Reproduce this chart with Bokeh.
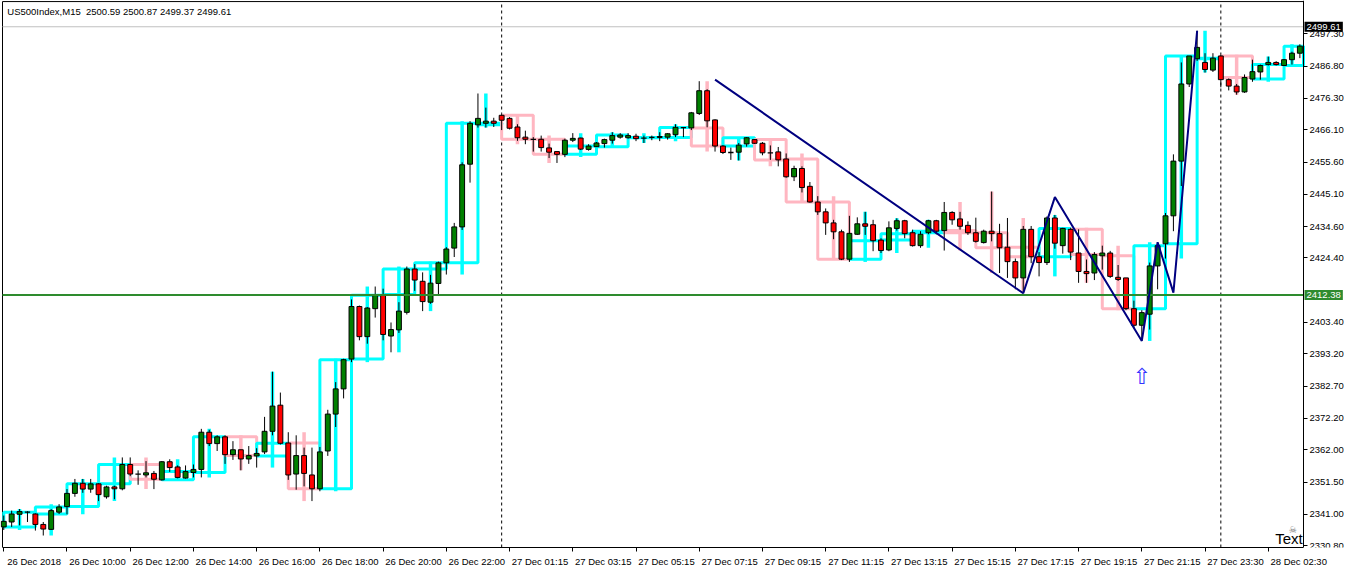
import pandas as pd
import numpy as np
from bokeh.plotting import figure
from bokeh.models import (FixedTicker, LinearAxis, Label, Range1d,
                          CustomJSTickFormatter, PrintfTickFormatter, ColumnDataSource)
from bokeh.core.properties import value
from bokeh.embed import file_html
from bokeh.resources import INLINE

# ---------------- data ----------------
symbol = "US500Index,M15"
header_ohlc = ["2500.59", "2500.87", "2499.37", "2499.61"]

opens = [2336.9, 2338.5, 2341.0, 2341.7, 2341.1, 2337.7, 2336.1, 2341.7, 2343.5, 2347.8,
         2351.1, 2349.2, 2350.9, 2346.7, 2349.9, 2349.3, 2357.2, 2354.1, 2353.8, 2354.3,
         2352.2, 2358.1, 2356.4, 2352.8, 2354.6, 2355.6, 2367.7, 2364.0, 2366.2, 2360.4,
         2362.0, 2359.0, 2360.0, 2361.3, 2368.0, 2376.5, 2364.2, 2354.1, 2360.1, 2353.8,
         2349.3, 2361.6, 2373.6, 2381.8, 2391.5, 2408.6, 2398.8, 2407.9, 2412.5, 2399.0,
         2401.0, 2406.7, 2420.8, 2416.8, 2410.0, 2416.1, 2422.8, 2427.6, 2434.5, 2454.9,
         2467.7, 2468.2, 2468.9, 2470.8, 2469.8, 2467.0, 2463.7, 2463.0, 2463.0, 2460.2,
         2459.0, 2458.1, 2462.7, 2463.4, 2459.7, 2460.6, 2461.6, 2462.7, 2463.7, 2463.5,
         2464.0, 2463.4, 2463.6, 2463.6, 2463.7, 2464.5, 2466.8, 2466.7, 2471.4, 2478.8,
         2469.3, 2460.8, 2458.7, 2458.8, 2461.5, 2462.9, 2461.7, 2458.6, 2458.9, 2456.6,
         2450.8, 2453.5, 2447.7, 2442.6, 2439.4, 2435.8, 2432.9, 2424.0, 2432.1, 2435.5,
         2435.2, 2430.2, 2427.0, 2434.0, 2436.5, 2432.6, 2428.4, 2432.6, 2436.5, 2433.3,
         2439.2, 2437.1, 2435.0, 2432.6, 2429.4, 2433.1, 2432.3, 2427.9, 2423.2, 2417.9,
         2433.7, 2424.8, 2422.9, 2437.4, 2428.4, 2433.7, 2426.0, 2420.0, 2419.5, 2425.1,
         2426.0, 2418.1, 2417.9, 2407.9, 2402.5, 2406.1, 2421.8, 2429.0, 2438.1, 2455.9,
         2481.0, 2489.2, 2488.0, 2485.5, 2490.1, 2482.4, 2480.3, 2478.4, 2482.6, 2484.9,
         2487.3, 2488.0, 2487.0, 2488.9, 2491.0]
highs = [2340.6, 2342.2, 2342.7, 2342.0, 2341.3, 2338.5, 2342.7, 2344.3, 2349.2, 2352.5,
         2352.5, 2352.5, 2351.1, 2350.3, 2350.3, 2359.5, 2359.5, 2355.3, 2358.3, 2355.1,
         2358.3, 2358.9, 2356.9, 2356.9, 2357.2, 2368.8, 2368.5, 2366.7, 2366.7, 2364.8,
         2362.0, 2363.2, 2362.5, 2372.7, 2387.4, 2380.6, 2367.7, 2366.7, 2362.7, 2362.7,
         2362.9, 2375.0, 2384.0, 2391.6, 2410.9, 2408.9, 2408.4, 2415.1, 2414.4, 2403.4,
         2410.0, 2421.6, 2422.4, 2419.7, 2418.9, 2423.2, 2427.9, 2435.8, 2455.5, 2468.9,
         2477.9, 2473.3, 2470.0, 2471.2, 2470.2, 2467.9, 2465.8, 2463.7, 2464.2, 2461.6,
         2459.0, 2463.2, 2465.0, 2463.5, 2461.4, 2462.1, 2463.2, 2465.3, 2465.0, 2465.0,
         2464.8, 2464.2, 2464.2, 2465.3, 2465.0, 2467.9, 2466.8, 2471.9, 2481.9, 2479.3,
         2469.5, 2461.1, 2460.3, 2461.8, 2463.7, 2463.1, 2462.1, 2461.0, 2460.5, 2458.4,
         2454.4, 2454.2, 2449.1, 2444.5, 2440.5, 2436.8, 2433.6, 2438.1, 2437.6, 2439.4,
         2436.8, 2430.8, 2436.3, 2437.3, 2436.8, 2433.6, 2433.1, 2436.8, 2436.8, 2442.6,
         2439.6, 2439.4, 2436.3, 2437.5, 2433.6, 2446.0, 2435.5, 2437.4, 2424.2, 2434.8,
         2434.8, 2426.3, 2437.9, 2438.4, 2434.2, 2434.2, 2433.7, 2423.9, 2426.3, 2428.4,
         2426.7, 2422.1, 2417.9, 2410.5, 2407.4, 2422.9, 2429.5, 2439.0, 2458.1, 2488.0,
         2490.1, 2498.3, 2491.0, 2491.0, 2490.5, 2482.8, 2481.0, 2484.1, 2488.9, 2487.3,
         2489.9, 2488.4, 2489.1, 2491.5, 2493.9]
lows = [2335.9, 2336.9, 2337.4, 2338.5, 2335.7, 2334.1, 2335.9, 2341.1, 2341.0, 2346.7,
        2348.0, 2348.0, 2345.3, 2346.1, 2345.9, 2348.8, 2353.4, 2350.6, 2353.0, 2349.2,
        2352.0, 2354.8, 2352.7, 2352.6, 2353.0, 2353.0, 2363.2, 2361.6, 2357.4, 2358.7,
        2355.3, 2357.4, 2356.2, 2360.6, 2366.7, 2363.7, 2352.2, 2349.0, 2350.1, 2345.3,
        2348.5, 2360.0, 2369.4, 2378.7, 2390.5, 2397.6, 2396.5, 2405.0, 2397.6, 2393.7,
        2400.0, 2406.0, 2413.7, 2407.1, 2409.5, 2412.1, 2419.0, 2424.7, 2433.5, 2448.9,
        2466.8, 2466.8, 2467.0, 2466.0, 2466.2, 2462.5, 2461.4, 2459.0, 2459.0, 2456.9,
        2455.3, 2457.2, 2462.1, 2459.5, 2459.3, 2460.6, 2460.3, 2461.6, 2463.2, 2463.2,
        2462.4, 2461.8, 2462.7, 2462.4, 2462.9, 2463.7, 2463.7, 2466.0, 2470.9, 2466.9,
        2459.0, 2458.2, 2456.3, 2456.1, 2460.6, 2461.5, 2457.8, 2456.3, 2454.2, 2450.5,
        2449.4, 2445.7, 2442.4, 2438.4, 2431.9, 2430.5, 2423.7, 2423.1, 2431.9, 2431.9,
        2426.6, 2426.0, 2426.6, 2433.3, 2430.8, 2428.1, 2427.7, 2432.1, 2432.1, 2426.8,
        2435.2, 2433.6, 2431.9, 2429.4, 2429.1, 2429.8, 2419.5, 2417.9, 2414.2, 2413.2,
        2422.7, 2418.4, 2422.1, 2427.4, 2425.8, 2423.7, 2416.3, 2416.3, 2417.2, 2420.6,
        2417.9, 2416.9, 2407.4, 2401.6, 2397.4, 2401.1, 2414.2, 2424.2, 2433.1, 2447.8,
        2480.0, 2488.5, 2484.7, 2484.9, 2479.9, 2478.9, 2477.5, 2478.1, 2481.7, 2482.4,
        2487.0, 2487.0, 2486.8, 2487.3, 2489.4]
closes = [2338.7, 2341.1, 2341.9, 2341.7, 2337.7, 2336.2, 2342.2, 2343.4, 2347.8, 2351.1,
          2349.2, 2350.9, 2347.4, 2349.9, 2349.3, 2357.2, 2354.1, 2354.1, 2354.5, 2352.4,
          2358.1, 2356.2, 2353.0, 2354.9, 2355.6, 2367.7, 2364.0, 2366.2, 2360.4, 2362.0,
          2359.0, 2360.1, 2360.8, 2368.0, 2376.2, 2364.1, 2353.8, 2360.1, 2354.3, 2349.3,
          2361.3, 2373.6, 2381.8, 2391.3, 2408.6, 2398.8, 2408.1, 2412.3, 2399.5, 2401.1,
          2407.1, 2420.8, 2417.2, 2410.2, 2416.2, 2422.8, 2427.3, 2434.5, 2454.7, 2468.2,
          2469.8, 2468.9, 2468.2, 2469.2, 2466.6, 2463.5, 2463.0, 2463.0, 2460.3, 2458.8,
          2458.1, 2462.7, 2463.3, 2459.8, 2460.8, 2461.8, 2462.9, 2464.2, 2464.4, 2464.2,
          2463.2, 2463.4, 2463.6, 2463.9, 2464.8, 2466.9, 2466.8, 2471.6, 2478.8, 2469.0,
          2460.8, 2458.7, 2458.7, 2461.1, 2463.5, 2461.7, 2458.6, 2458.6, 2456.3, 2450.8,
          2453.5, 2447.3, 2442.6, 2439.4, 2435.8, 2432.9, 2424.0, 2432.4, 2435.5, 2434.7,
          2430.0, 2426.8, 2434.2, 2436.5, 2432.3, 2428.4, 2432.1, 2436.5, 2433.1, 2439.2,
          2436.8, 2434.7, 2432.6, 2429.8, 2433.1, 2432.3, 2427.7, 2423.2, 2417.9, 2433.7,
          2424.8, 2422.9, 2437.4, 2429.2, 2434.0, 2426.3, 2420.0, 2419.3, 2425.5, 2426.0,
          2418.4, 2417.4, 2407.9, 2402.5, 2406.6, 2421.8, 2428.4, 2438.1, 2455.9, 2481.0,
          2490.1, 2492.9, 2485.7, 2489.4, 2482.4, 2480.3, 2478.4, 2483.1, 2485.0, 2487.0,
          2488.0, 2487.3, 2488.9, 2491.0, 2493.3]

# trading sessions (start time, number of M15 bars)
sessions = [("2018-12-26 08:00", 63), ("2018-12-27 01:00", 89),
            ("2018-12-27 23:30", 2), ("2018-12-28 01:00", 11)]

price_ticks = [2497.30, 2486.80, 2476.30, 2466.10, 2455.60, 2445.10, 2434.60, 2424.40,
               2403.40, 2393.20, 2382.70, 2372.20, 2362.00, 2351.50, 2341.00, 2330.80]
date_tick_labels = ["26 Dec 2018", "26 Dec 10:00", "26 Dec 12:00", "26 Dec 14:00",
                    "26 Dec 16:00", "26 Dec 18:00", "26 Dec 20:00", "26 Dec 22:00",
                    "27 Dec 01:15", "27 Dec 03:15", "27 Dec 05:15", "27 Dec 07:15",
                    "27 Dec 09:15", "27 Dec 11:15", "27 Dec 13:15", "27 Dec 15:15",
                    "27 Dec 17:15", "27 Dec 19:15", "27 Dec 21:15", "27 Dec 23:30",
                    "28 Dec 02:30"]
date_tick_step = 8

bid_price = 2499.61
level_price = 2412.38
zz_bars = [90, 129, 133, 144, 146, 148, 151]
zz_prices = [2482.4, 2412.9, 2444.2, 2397.4, 2429.5, 2413.1, 2498.3]
arrow_bar, arrow_price = 144, 2390.0

# ---------------- derived ----------------
times = []
for start, n in sessions:
    times += list(pd.date_range(start, periods=n, freq="15min"))
df = pd.DataFrame({"t": times, "o": opens, "h": highs, "l": lows, "c": closes})
df["i"] = np.arange(len(df))

# visible chart window (in bars / price)
cx0, cx1 = -0.16, 164.46
cy0, cy1 = 2330.2, 2507.8

# H1 candles
df["hr"] = df["t"].dt.floor("h")
h1 = df.groupby("hr").agg(first=("i", "min"), last=("i", "max"), o=("o", "first"),
                          c=("c", "last"), h=("h", "max"), l=("l", "min"),
                          n=("i", "count")).reset_index()
h1["left"] = h1["first"]
h1["right"] = np.minimum(h1["last"] + 1, cx1)
h1["mid"] = h1["first"] + h1["n"] // 2
h1["top"] = h1[["o", "c"]].max(axis=1)
h1["bottom"] = h1[["o", "c"]].min(axis=1)
h1["color"] = np.where(h1["c"] >= h1["o"], "#00FFFF", "#FFB6C1")
h1src = ColumnDataSource(h1[["left", "right", "mid", "top", "bottom", "h", "l", "color"]])

# day separators: first bar of each new day
day = df["t"].dt.date
sep_bars = [int(i) for i in df["i"][day != day.shift()].tolist()[1:]]

df["top"] = df[["o", "c"]].max(axis=1)
df["bottom"] = df[["o", "c"]].min(axis=1)
up = df[df["c"] - df["o"] > 0.05]
dn = df[df["o"] - df["c"] > 0.05]
dj = df[(df["c"] - df["o"]).abs() <= 0.05]

# ---------------- figure ----------------
W, H = 1346, 569
scale_w = 43                       # price scale strip, px
chart_px = W - scale_w - 2          # chart width in px
ppb = chart_px / (cx1 - cx0)        # px per bar
x_lo = cx0 - 2 / ppb
x_hi = cx1 + scale_w / ppb

p = figure(width=W, height=H, x_range=Range1d(x_lo, x_hi), y_range=Range1d(cy0, cy1 + 0.35),
           x_axis_type=None, y_axis_type=None, output_backend="svg", toolbar_location=None,
           min_border_left=0, min_border_top=0, min_border_right=0, min_border_bottom=20)
p.outline_line_color = None
p.background_fill_color = "white"
p.border_fill_color = "white"

font = "Liberation Sans"
fsize = "9.5px"

yaxis = LinearAxis(ticker=FixedTicker(ticks=price_ticks),
                   formatter=PrintfTickFormatter(format="%.2f"), fixed_location=cx1)
yaxis.major_tick_out = 4
yaxis.major_tick_in = 0
yaxis.minor_tick_out = 0
yaxis.major_label_standoff = 2
yaxis.major_label_text_font = font
yaxis.major_label_text_font_size = fsize
yaxis.major_label_text_color = "black"
yaxis.axis_line_color = "black"
p.add_layout(yaxis, "right")

label_bars = [i * date_tick_step for i in range(len(date_tick_labels))]
off = 3.85
xaxis = LinearAxis(ticker=FixedTicker(ticks=[b + off for b in label_bars], minor_ticks=label_bars),
                   formatter=CustomJSTickFormatter(args=dict(labels=date_tick_labels, off=off,
                                                             step=date_tick_step),
                                                   code="const i = Math.round((tick - off) / step); return labels[i] || '';"),
                   bounds=(cx0, cx1))
xaxis.major_tick_out = 0
xaxis.major_tick_in = 0
xaxis.major_tick_line_color = None
xaxis.minor_tick_out = 4
xaxis.minor_tick_in = 0
xaxis.minor_tick_line_color = "black"
xaxis.major_label_standoff = 4
xaxis.major_label_text_font = font
xaxis.major_label_text_font_size = fsize
xaxis.major_label_text_color = "black"
xaxis.axis_line_color = "black"
p.add_layout(xaxis, "below")

# chart border (left and top)
p.segment(x0=[cx0, cx0], y0=[cy0, cy1], x1=[cx0, cx1], y1=[cy1, cy1], line_color="black",
          line_width=1)

# price line of the bid, day separators
p.segment(x0=[cx0], y0=[bid_price], x1=[cx1], y1=[bid_price], line_color="#C0C0C0", line_width=1)
for b in sep_bars:
    p.segment(x0=[b], y0=[cy0], x1=[b], y1=[cy1], line_color="black", line_width=1,
              line_dash="3 3")

# H1 overlay
p.segment(x0="mid", y0="l", x1="mid", y1="h", line_color="color", line_width=3.5, source=h1src)
p.quad(left="left", right="right", top="top", bottom="bottom", fill_color=None,
       line_color="color", line_width=3, source=h1src)

# candles
p.segment(x0=df["i"], y0=df["l"], x1=df["i"], y1=df["h"], line_color="black", line_width=1)
p.vbar(x=up["i"], width=0.62, top=up["top"], bottom=up["bottom"], fill_color="#008000",
       line_color="black", line_width=1)
p.vbar(x=dn["i"], width=0.62, top=dn["top"], bottom=dn["bottom"], fill_color="#FF0000",
       line_color="black", line_width=1)
p.segment(x0=dj["i"] - 0.34, y0=dj["o"], x1=dj["i"] + 0.34, y1=dj["o"], line_color="black",
          line_width=1.3)

# level line and zigzag
p.segment(x0=[cx0], y0=[level_price], x1=[cx1], y1=[level_price], line_color="#2E8B2E",
          line_width=2)
p.line(zz_bars, zz_prices, line_color="#000080", line_width=2)

# arrow, texts
p.text(x=[arrow_bar], y=[arrow_price], text=["⇧"], text_font=value("DejaVu Sans"),
       text_font_size="22px", text_color="#3333FF", text_align="center", text_baseline="top")
p.text(x=[cx1 - 0.1], y=[cy0 + 0.2], text=["Text"], text_font=value(font), text_font_size="15px",
       text_color="black", text_align="right", text_baseline="bottom")
p.text(x=[cx1 - 1.35], y=[cy0 + 5.6], text=["☠"], text_font=value("DejaVu Sans"),
       text_font_size="9px", text_color="#707070", text_align="center", text_baseline="middle")
p.text(x=[0.45], y=[2504.7], text=[symbol + "\u00a0\u00a0" + " ".join(header_ohlc)],
       text_font=value(font), text_font_size=fsize, text_color="black",
       text_align="left", text_baseline="middle")

# price labels on the scale
p.add_layout(Label(x=cx1, y=bid_price, text=f"{bid_price:.2f}", x_offset=1,
                   text_baseline="middle", text_font=font, text_font_size=fsize,
                   text_color="white", background_fill_color="black", padding=2))
p.add_layout(Label(x=cx1, y=level_price, text=f"{level_price:.2f}", x_offset=1,
                   text_baseline="middle", text_font=font, text_font_size=fsize,
                   text_color="white", background_fill_color="#2E8B2E", padding=2))

open("out.html", "w").write(file_html(p, INLINE))
